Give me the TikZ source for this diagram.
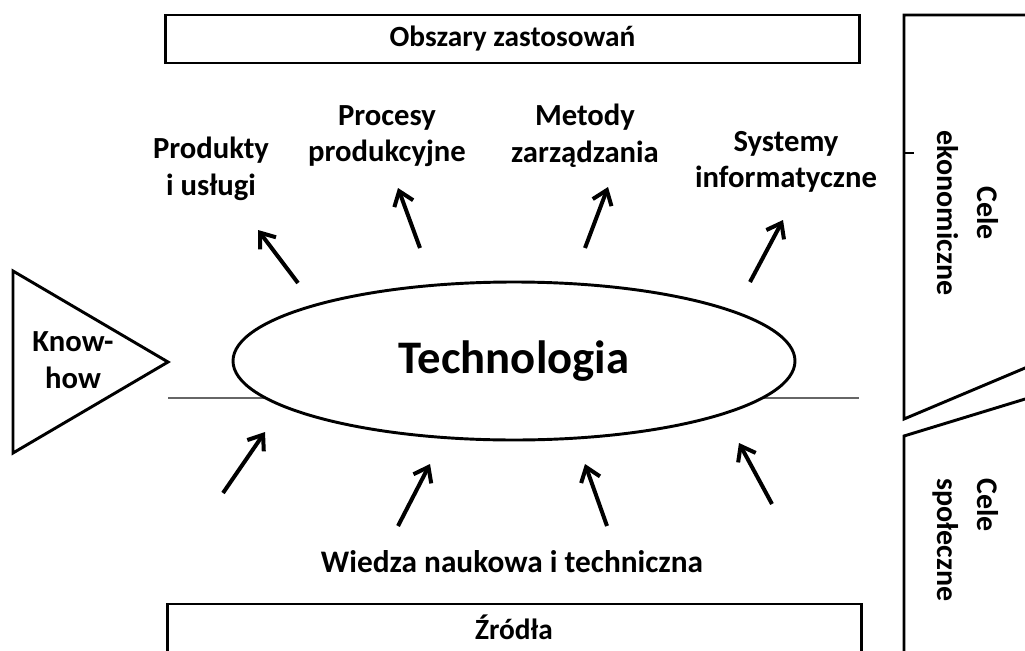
\documentclass[tikz,border=0pt]{standalone}
\usepackage{fontspec}
\setmainfont{Carlito}
\usetikzlibrary{arrows.meta,shapes.geometric}
\begin{document}
\begin{tikzpicture}[x=0.75pt,y=-0.75pt,
  lbl/.style={font=\bfseries\fontsize{23}{27.5}\selectfont, align=center, inner sep=0pt},
  vlbl/.style={font=\bfseries\fontsize{22.5}{30}\selectfont, rotate=-90, inner sep=0pt},
  boxnode/.style={draw, line width=2.2pt, minimum width=521pt, minimum height=36pt, inner sep=0pt,
    font=\bfseries\fontsize{22}{26}\selectfont},
  arr/.style={line width=3pt, -{Straight Barb[length=10pt,width=15pt]}},
  shapeline/.style={line width=2.2pt, line join=miter},
  thinline/.style={line width=1.1pt, draw=black!60},
]
\clip (0,0) rectangle (1025,650);
\fill[white] (0,0) rectangle (1025,650);

% top and bottom boxes
\node[boxnode] (areas) at (512.5,39) {Obszary zastosowań};
\node[boxnode, minimum height=37.5pt] (src) at (514.5,629) {};
\node[lbl, font=\bfseries\fontsize{22}{26}\selectfont] (srct) at (514,627) {Źródła};

% know-how triangle
\draw[shapeline] (13,271) -- (168,362) -- (13,453) -- cycle;
\node[lbl] (know) at (73,360) {Know-\\how};

% horizontal thin line
\coordinate (hl) at (168,398);
\coordinate (hr) at (859,398);
\draw[thinline] (hl) -- (hr);

% central ellipse
\node[ellipse, draw, fill=white, line width=2.2pt, minimum width=421.5pt, minimum height=118.5pt,
  inner sep=0pt, font=\bfseries\fontsize{35}{40}\selectfont] (tech) at (514,361) {Technologia};

% top labels
\node[lbl] (prod) at (211,169) {Produkty\\i usługi};
\node[lbl] (proc) at (387,136) {Procesy\\produkcyjne};
\node[lbl] (met) at (585,136) {Metody\\zarządzania};
\node[lbl] (sys) at (786,162) {Systemy\\informatyczne};

% top arrows
\coordinate (a1s) at (298,283); \coordinate (a1e) at (258,230);
\coordinate (a2s) at (420,248); \coordinate (a2e) at (398,188);
\coordinate (a3s) at (585,248); \coordinate (a3e) at (608,187);
\coordinate (a4s) at (750,282); \coordinate (a4e) at (783,220);
\draw[arr] (a1s) -- (a1e);
\draw[arr] (a2s) -- (a2e);
\draw[arr] (a3s) -- (a3e);
\draw[arr] (a4s) -- (a4e);

% bottom arrows
\coordinate (b1s) at (223,493); \coordinate (b1e) at (265,432);
\coordinate (b2s) at (398,526); \coordinate (b2e) at (430,464);
\coordinate (b3s) at (607,526); \coordinate (b3e) at (585,464);
\coordinate (b4s) at (772,504); \coordinate (b4e) at (739,443);
\draw[arr] (b1s) -- (b1e);
\draw[arr] (b2s) -- (b2e);
\draw[arr] (b3s) -- (b3e);
\draw[arr] (b4s) -- (b4e);

\node[lbl, font=\bfseries\fontsize{23.5}{28}\selectfont] (wiedza) at (512,562) {Wiedza naukowa i techniczna};

% right-hand shapes
\draw[shapeline] (1035,15) -- (904,15) -- (904,419) -- (1035,363.8);
\draw[shapeline] (904,153) -- (914,153);
\draw[shapeline] (1035,396) -- (904,436) -- (904,660);
\node[vlbl, align=center] (eko) at (968,213) {Cele\\ekonomiczne};
\node[vlbl, align=left] (spo) at (966,540) {Cele\\społeczne};
\end{tikzpicture}
\end{document}
